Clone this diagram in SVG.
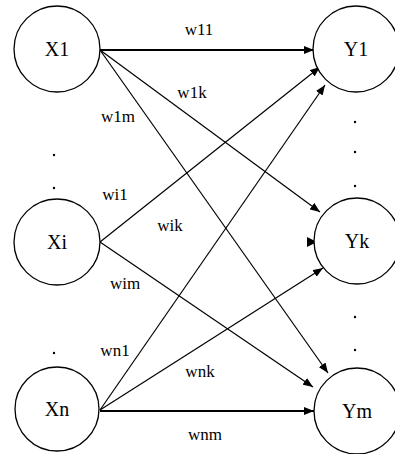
<svg xmlns="http://www.w3.org/2000/svg" width="395" height="454" viewBox="0 0 395 454">
<style>
.node circle{fill:#fff;stroke:#000;stroke-width:1.3}
.node text{font-family:"Liberation Serif",serif;font-size:20px;text-anchor:middle;fill:#000}
.lbl{font-family:"Liberation Serif",serif;font-size:17px;text-anchor:middle;fill:#000}
.c line{stroke:#000;stroke-width:1.2}
.c line.h{stroke-width:2}
.dot{fill:#000}
</style>
<defs>
<marker id="ah" viewBox="0 0 10 8" refX="10" refY="4" markerWidth="10" markerHeight="8" markerUnits="userSpaceOnUse" orient="auto">
<path d="M0,0 L10,4 L0,8 Z" fill="#000"/>
</marker>
</defs>
<rect width="395" height="454" fill="#fff"/>
<g id="connectors" class="c">
<line class="h" x1="100" y1="50" x2="314" y2="50" marker-end="url(#ah)"/>
<line x1="100" y1="50" x2="320" y2="212" marker-end="url(#ah)"/>
<line x1="100" y1="50" x2="328" y2="373" marker-end="url(#ah)"/>
<line x1="100" y1="242" x2="320" y2="67" marker-end="url(#ah)"/>
<path d="M307,237 L317,242 L307,247 Z" fill="#000"/>
<line x1="100" y1="242" x2="313" y2="387" marker-end="url(#ah)"/>
<line x1="100" y1="410" x2="325" y2="85" marker-end="url(#ah)"/>
<line x1="100" y1="410" x2="323" y2="268" marker-end="url(#ah)"/>
<line class="h" x1="100" y1="411" x2="314" y2="411" marker-end="url(#ah)"/>
</g>
<g id="labels">
<text class="lbl" x="199" y="35">w11</text>
<text class="lbl" x="192" y="98">w1k</text>
<text class="lbl" x="118" y="122">w1m</text>
<text class="lbl" x="115" y="200">wi1</text>
<text class="lbl" x="170" y="231">wik</text>
<text class="lbl" x="125" y="289">wim</text>
<text class="lbl" x="115" y="356">wn1</text>
<text class="lbl" x="200" y="377">wnk</text>
<text class="lbl" x="205" y="440">wnm</text>
</g>
<g id="X1" class="node"><circle cx="57" cy="49" r="43"/><text x="57" y="56">X1</text></g>
<g id="Xi" class="node"><circle cx="57" cy="242" r="43"/><text x="57" y="249">Xi</text></g>
<g id="Xn" class="node"><circle cx="57" cy="409" r="42"/><text x="57" y="416">Xn</text></g>
<g id="Y1" class="node"><circle cx="356" cy="49" r="43"/><text x="356" y="56">Y1</text></g>
<g id="Yk" class="node"><circle cx="357" cy="241" r="43"/><text x="357" y="248">Yk</text></g>
<g id="Ym" class="node"><circle cx="357" cy="411" r="43"/><text x="357" y="418">Ym</text></g>
<g id="dots">
<circle class="dot" cx="54" cy="155" r="1.2"/>
<circle class="dot" cx="54" cy="188" r="1.2"/>
<circle class="dot" cx="54" cy="353" r="1.2"/>
<circle class="dot" cx="355" cy="122" r="1.2"/>
<circle class="dot" cx="355" cy="152" r="1.2"/>
<circle class="dot" cx="355" cy="186" r="1.2"/>
<circle class="dot" cx="355" cy="317" r="1.2"/>
<circle class="dot" cx="355" cy="350" r="1.2"/>
</g>
</svg>
